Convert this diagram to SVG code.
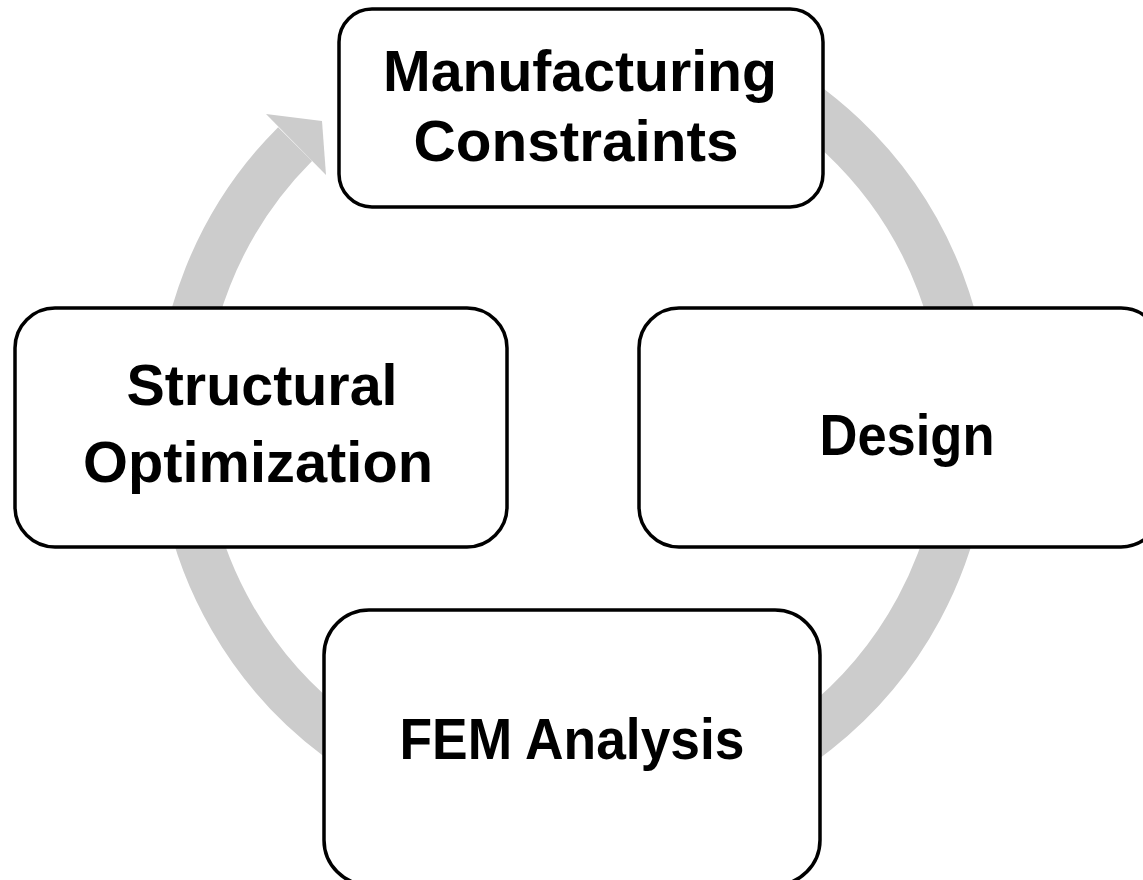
<svg xmlns="http://www.w3.org/2000/svg" width="1143" height="880" viewBox="0 0 1143 880">
  <style>
    .box { fill: #ffffff; stroke: #000000; stroke-width: 3.5; }
    .label { font-family: "Liberation Sans", Arial, sans-serif; font-weight: bold; font-size: 58px; fill: #000000; text-anchor: middle; }
    .ring { fill: none; stroke: #cccccc; stroke-width: 48; }
    .head { fill: #cccccc; }
  </style>
  <rect width="1143" height="880" fill="#ffffff"/>

  <!-- circular cycle arrow, clockwise, drawn beneath the boxes -->
  <g id="connectors">
    <path class="ring" d="M 707.4 52.7 A 393 393 0 1 1 295.1 144.1"/>
    <polygon class="head" points="266,114 322,121 326,175"/>
  </g>

  <g id="node-manufacturing">
    <rect class="box" x="339" y="9" width="484" height="198" rx="33" ry="33"/>
    <text class="label" x="580" y="91" textLength="394" lengthAdjust="spacingAndGlyphs">Manufacturing</text>
    <text class="label" x="576" y="161" textLength="325" lengthAdjust="spacingAndGlyphs">Constraints</text>
  </g>

  <g id="node-design">
    <rect class="box" x="639" y="308" width="522" height="239" rx="40" ry="40"/>
    <text class="label" x="907" y="455" textLength="175" lengthAdjust="spacingAndGlyphs">Design</text>
  </g>

  <g id="node-fem">
    <rect class="box" x="324" y="610" width="496" height="275" rx="45" ry="45"/>
    <text class="label" x="572" y="759" textLength="345" lengthAdjust="spacingAndGlyphs">FEM Analysis</text>
  </g>

  <g id="node-structural">
    <rect class="box" x="15" y="308" width="492" height="239" rx="40" ry="40"/>
    <text class="label" x="262" y="405" textLength="271" lengthAdjust="spacingAndGlyphs">Structural</text>
    <text class="label" x="258" y="482" textLength="350" lengthAdjust="spacingAndGlyphs">Optimization</text>
  </g>
</svg>
